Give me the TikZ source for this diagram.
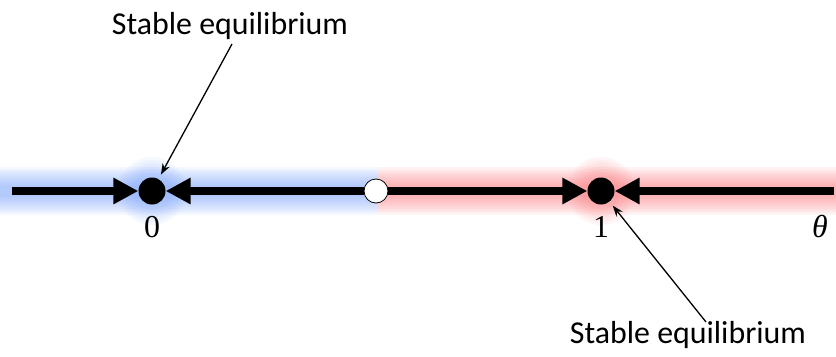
\documentclass[tikz,border=0pt]{standalone}
\usepackage{fontspec}
\setmainfont{Carlito}
\newfontfamily\labelserif{Liberation Serif}
\usetikzlibrary{arrows.meta}
\definecolor{glowblue}{RGB}{120,160,250}
\definecolor{glowred}{RGB}{250,120,125}
\tikzset{
  flow/.style={line width=8.5bp, -{Triangle[length=25bp,width=25bp]}},
  pointer/.style={line width=1.3bp, -{Stealth[length=11bp,width=8bp]}},
  stabledot/.style={circle, fill=black, inner sep=0pt, minimum size=27bp},
  unstabledot/.style={circle, fill=white, draw=black, line width=0.8bp, inner sep=0pt, minimum size=24bp},
  caption/.style={font=\fontsize{32}{38}\selectfont, anchor=base, inner sep=0pt},
  axislabel/.style={font=\labelserif\fontsize{32}{36}\selectfont, anchor=base, inner sep=0pt},
}
\begin{document}
\begin{tikzpicture}[x=1bp,y=-1bp]
  \useasboundingbox (0,0) rectangle (836,356);

  % soft glow behind the line: blue left of the unstable point, red right of it
  \foreach \w in {48,44,...,10} {
    \draw[glowblue, line width=\w bp, opacity=0.08] (0,191) -- (377,191);
    \draw[glowred, line width=\w bp, opacity=0.08] (377,191) -- (836,191);
  }
  \foreach \r in {34,31,...,17} {
    \fill[glowblue, opacity=0.07] (152,191) circle (\r bp);
    \fill[glowred, opacity=0.07] (601,191) circle (\r bp);
  }

  % equilibria
  \node[stabledot] (zero) at (152,191) {};
  \node[unstabledot] (mid) at (376,191) {};
  \node[stabledot] (one) at (601,191) {};
  \coordinate (leftend) at (12,191);
  \coordinate (rightend) at (834,191);

  % flow arrows
  \draw[flow] (leftend) -- (zero);
  \draw[flow] (mid) -- (zero);
  \draw[flow] (mid) -- (one);
  \draw[flow] (rightend) -- (one);

  % axis labels
  \node[axislabel] (l0) at (152,237) {0};
  \node[axislabel] (l1) at (601,237) {1};
  \node[axislabel] (lt) at (820,237) {\itshape θ};

  % annotations
  \node[caption] (top) at (230,34) {Stable equilibrium};
  \node[caption] (bot) at (688,343) {Stable equilibrium};
  \coordinate (topfoot) at (232,44);
  \coordinate (botfoot) at (706,322);
  \draw[pointer, shorten >=5bp] (topfoot) -- (zero);
  \draw[pointer, shorten >=5bp] (botfoot) -- (one);
\end{tikzpicture}
\end{document}
